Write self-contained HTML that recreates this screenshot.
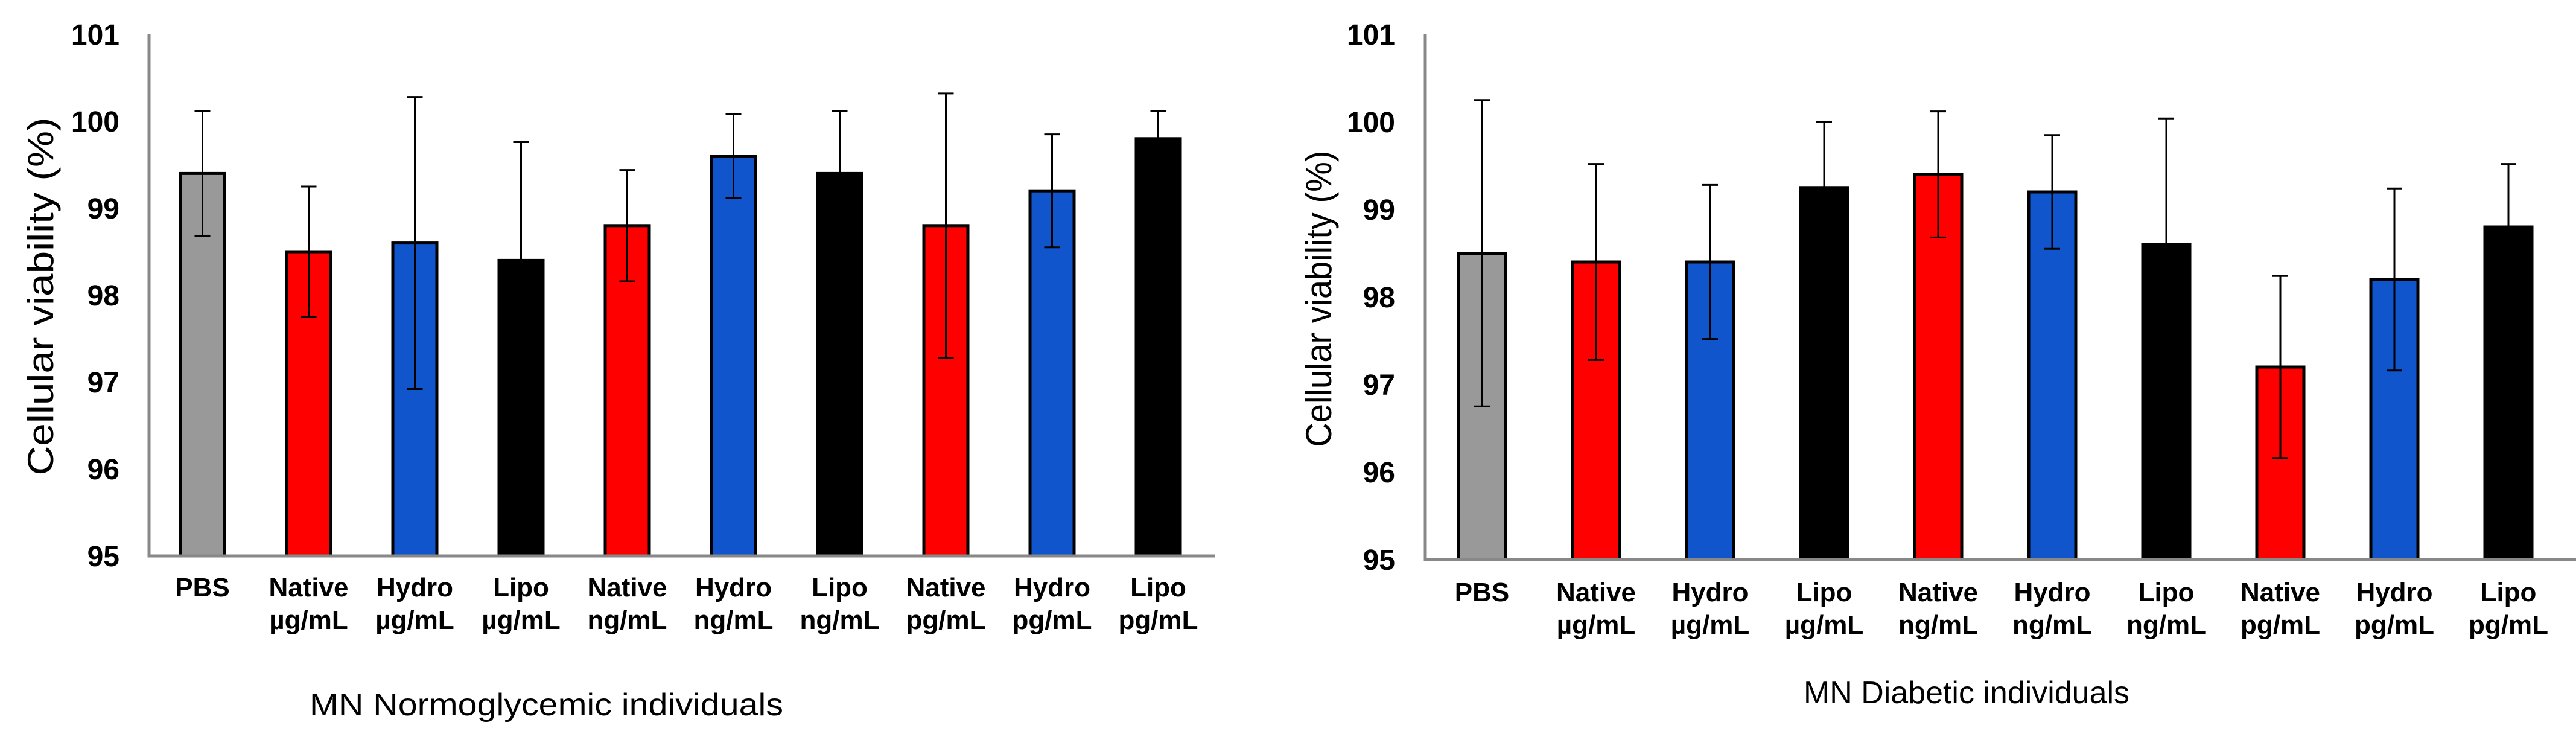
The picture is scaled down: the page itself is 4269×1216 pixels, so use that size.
<!DOCTYPE html>
<html><head><meta charset="utf-8"><style>
html,body{margin:0;padding:0;background:#fff;width:4269px;height:1216px;overflow:hidden}
svg text{font-family:"Liberation Sans",Arial,sans-serif}
</style></head><body>
<svg id="chart" xmlns="http://www.w3.org/2000/svg" width="4269" height="1216" viewBox="0 0 4269 1216"></svg>
<script>
const categoriesTop = ["PBS","Native","Hydro","Lipo","Native","Hydro","Lipo","Native","Hydro","Lipo"];
const categoriesBottom = ["","µg/mL","µg/mL","µg/mL","ng/mL","ng/mL","ng/mL","pg/mL","pg/mL","pg/mL"];
const barColors = ["#999999","#ff0000","#1155cc","#000000","#ff0000","#1155cc","#000000","#ff0000","#1155cc","#000000"];
const normoValues = [99.4,98.5,98.6,98.4,98.8,99.6,99.4,98.8,99.2,99.8];
const normoErrors = [0.72,0.75,1.68,1.36,0.64,0.48,0.72,1.52,0.65,0.32];
const diabValues = [98.5,98.4,98.4,99.25,99.4,99.2,98.6,97.2,98.2,98.8];
const diabErrors = [1.75,1.12,0.88,0.75,0.72,0.65,1.44,1.04,1.04,0.72];
const yTicks = [95,96,97,98,99,100,101];

const svg = document.getElementById('chart');
const NS = "http://www.w3.org/2000/svg";
function mk(tag, attrs, parent){const e=document.createElementNS(NS,tag);for(const k in attrs)e.setAttribute(k,attrs[k]);(parent||svg).appendChild(e);return e;}

function drawChart(cfg){
  const g = mk('g',{});
  
  
  const y = v => cfg.y0 - (v-95)*(cfg.y0-cfg.y1)/6;
  const x = i => cfg.c0 + i*cfg.step;
  // tick labels
  yTicks.forEach(t=>{
    const tl = mk('text',{x:cfg.tickX,y:y(t)+17,'text-anchor':'end','font-size':48,'font-weight':'bold',fill:'#000'},g);
    tl.textContent = t;
    
    
  });
  // bars
  cfg.values.forEach((v,i)=>{
    const cx = x(i);
    const b = mk('rect',{x:cx-cfg.bw/2,y:y(v),width:cfg.bw,height:y(95)-y(v),fill:barColors[i],stroke:'#000','stroke-width':5},g);
    
    
    const e = cfg.errors[i];
    const eg = mk('g',{stroke:'#000','stroke-width':3},g);
    
    
    mk('line',{x1:cx,x2:cx,y1:y(v+e),y2:y(Math.max(95,v-e))},eg);
    mk('line',{x1:cx-13,x2:cx+13,y1:y(v+e),y2:y(v+e)},eg);
    if(v-e>95) mk('line',{x1:cx-13,x2:cx+13,y1:y(v-e),y2:y(v-e)},eg);
    const l1 = mk('text',{x:cx,y:cfg.lab1,'text-anchor':'middle','font-size':44,'font-weight':'bold',fill:'#000'},g);
    l1.textContent = categoriesTop[i];
    
    
    if(categoriesBottom[i]){
      const l2 = mk('text',{x:cx,y:cfg.lab1+54,'text-anchor':'middle','font-size':44,'font-weight':'bold',fill:'#000'},g);
      l2.textContent = categoriesBottom[i];
      
      
    }
  });
  // axes
  const ax = mk('path',{d:`M${cfg.ax} ${cfg.y1} L${cfg.ax} ${cfg.y0} L${cfg.axEnd} ${cfg.y0}`,fill:'none',stroke:'#888','stroke-width':5},g);
  
  
  const yt = mk('text',{x:0,y:0,'text-anchor':'middle','font-size':60,fill:'#000',textLength:cfg.ytLen,lengthAdjust:'spacingAndGlyphs',transform:`translate(${cfg.ytX},${cfg.ytY}) rotate(-90)`},g);
  yt.textContent = cfg.ytText;
  
  
  const xt = mk('text',{x:cfg.xtX,y:cfg.xtY,'font-size':52,fill:'#000',textLength:cfg.xtLen,lengthAdjust:'spacingAndGlyphs'},g);
  xt.textContent = cfg.xtText;
  
  
}
drawChart({name:'normoglycemic-chart',values:normoValues,errors:normoErrors,y0:921,y1:57,c0:335.5,step:176,bw:73,ax:247,axEnd:2014,tickX:198,lab1:988,ytX:88,ytY:491,ytLen:593,ytText:'Cellular viability (%)',xtX:513,xtY:1185,xtLen:785,xtText:'MN Normoglycemic individuals'});
drawChart({name:'diabetic-chart',values:diabValues,errors:diabErrors,y0:927,y1:57,c0:2456,step:189,bw:78,ax:2362,axEnd:4269,tickX:2312,lab1:996,ytX:2206,ytY:495,ytLen:491,ytText:'Cellular viability  (%)',xtX:2989,xtY:1165,xtLen:540,xtText:'MN Diabetic individuals'});
</script>
</body></html>
